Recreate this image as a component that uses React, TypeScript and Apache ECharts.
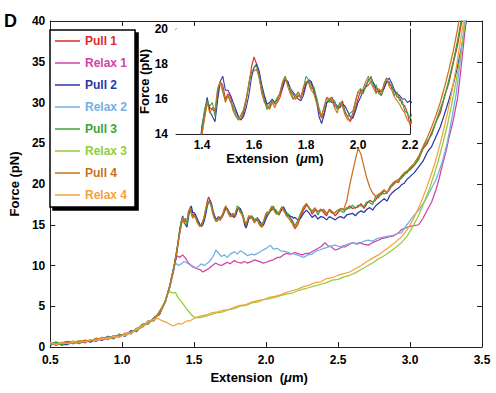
import React, { useEffect, useRef } from "react";
import * as echarts from "echarts";

const FONT = "'Liberation Sans', Arial, Helvetica, sans-serif";

const seriesNames = ["Pull 1", "Relax 1", "Pull 2", "Relax 2", "Pull 3", "Relax 3", "Pull 4", "Relax 4"];
const seriesColors = ["#e02a2a", "#d043a4", "#2a38a6", "#74aee2", "#38a43a", "#94cc3c", "#c8721e", "#f5a23e"];

// x grids (µm)
const riseX = [0.50, 0.54, 0.58, 0.62, 0.66, 0.70, 0.74, 0.78, 0.82, 0.86, 0.90, 0.94, 0.98, 1.02, 1.06, 1.10, 1.14, 1.18, 1.22, 1.26, 1.30, 1.33, 1.36, 1.38];
const fineX = [
  1.40, 1.41, 1.42, 1.43, 1.44, 1.45, 1.46, 1.47, 1.48, 1.49,
  1.50, 1.51, 1.52, 1.53, 1.54, 1.55, 1.56, 1.57, 1.58, 1.59,
  1.60, 1.61, 1.62, 1.63, 1.64, 1.65, 1.66, 1.67, 1.68, 1.69,
  1.70, 1.71, 1.72, 1.73, 1.74, 1.75, 1.76, 1.77, 1.78, 1.79,
  1.80, 1.81, 1.82, 1.83, 1.84, 1.85, 1.86, 1.87, 1.88, 1.89,
  1.90, 1.91, 1.92, 1.93, 1.94, 1.95, 1.96, 1.97, 1.98, 1.99,
  2.00, 2.01, 2.02, 2.03, 2.04, 2.05, 2.06, 2.07, 2.08, 2.09,
  2.10, 2.11, 2.12, 2.13, 2.14, 2.15, 2.16, 2.17, 2.18, 2.19,
  2.20,
];
const coarseX = [
  2.22, 2.24, 2.26, 2.28, 2.30, 2.32, 2.34, 2.36, 2.38, 2.40,
  2.42, 2.44, 2.46, 2.48, 2.50, 2.52, 2.54, 2.56, 2.58, 2.60,
  2.62, 2.64, 2.66, 2.68, 2.70, 2.72, 2.74, 2.76, 2.78, 2.80,
  2.82, 2.84, 2.86, 2.88, 2.90, 2.92, 2.94, 2.96, 2.98, 3.00,
];
const steepX = [3.03, 3.06, 3.09, 3.12, 3.15, 3.18, 3.21, 3.24, 3.27, 3.30, 3.33, 3.36, 3.39, 3.42];

// Pull forces (pN) on riseX + fineX + coarseX + steepX
const pull1F = [
  0.6, 0.2, 0.5, 0.7, 0.4, 0.8, 0.5, 0.9, 0.7, 1.2, 0.9, 1.4, 1.2, 1.7, 1.6, 2.3, 2.4, 3.2, 3.2, 4.4, 5.5, 7.5, 9.9, 12.0,
  14.0, 15.0, 15.8, 15.5, 15.4, 15.3, 16.2, 17.0, 16.8, 16.0,
  16.3, 16.1, 15.4, 15.3, 15.0, 14.8, 15.2, 15.9, 16.8, 17.8,
  18.4, 18.0, 17.3, 16.4, 16.1, 15.6, 15.5, 15.9, 15.7, 15.8,
  16.1, 16.6, 17.1, 17.0, 16.4, 16.3, 16.0, 16.2, 16.1, 16.4,
  16.9, 17.0, 16.9, 16.4, 16.1, 15.3, 14.9, 15.2, 15.8, 16.0,
  16.1, 15.6, 15.5, 15.5, 15.9, 15.3, 15.0, 14.7, 15.0, 15.5,
  16.0, 16.5, 16.4, 16.7, 16.8, 17.0, 16.9, 16.4, 16.5, 16.2,
  16.6, 17.0, 17.0, 16.6, 16.5, 16.1, 16.1, 15.7, 15.6, 15.2,
  14.5,
  15.0, 16.0, 16.8, 17.4, 17.1, 16.3, 16.8, 16.6, 16.9, 16.5,
  16.1, 16.9, 16.6, 16.1, 16.5, 17.0, 16.8, 16.9, 17.3, 17.0,
  17.1, 17.2, 17.6, 17.0, 17.6, 18.0, 17.8, 18.0, 18.6, 18.7,
  19.2, 18.9, 19.4, 20.0, 20.3, 20.2, 20.9, 21.2, 21.4, 21.9,
  22.3, 23.2, 24.3, 25.0, 26.3, 27.6, 28.7, 30.8, 32.4, 34.8, 37.0, 40.1, 43.6, 47.0,
];
const pull2F = [
  0.2, 0.5, 0.3, 0.3, 0.7, 0.4, 0.8, 0.6, 1.0, 0.8, 1.3, 1.0, 1.6, 1.3, 2.0, 1.9, 2.7, 2.8, 3.6, 4.0, 5.7, 7.3, 9.6, 11.6,
  14.5, 15.3, 16.1, 15.3, 15.0, 14.7, 15.9, 17.0, 17.3, 16.5,
  16.5, 16.2, 15.8, 15.4, 15.0, 14.8, 15.0, 15.5, 16.2, 17.2,
  17.8, 18.0, 17.6, 16.8, 16.2, 15.7, 15.8, 16.0, 15.8, 16.0,
  16.3, 16.7, 17.1, 17.0, 16.6, 16.4, 16.2, 16.0, 15.9, 16.2,
  16.8, 17.1, 17.0, 16.6, 15.9, 15.0, 14.6, 15.1, 15.8, 15.9,
  15.8, 15.8, 15.6, 15.5, 15.7, 15.6, 15.3, 15.0, 14.9, 15.3,
  15.8, 16.1, 16.5, 16.7, 17.1, 17.2, 16.9, 16.6, 16.4, 16.5,
  16.6, 17.0, 17.2, 16.9, 16.5, 16.3, 16.2, 16.0, 16.0, 15.8,
  15.9,
  15.6, 15.8, 16.4, 16.8, 16.4, 15.9, 16.2, 15.7, 16.0, 15.9,
  15.6, 16.0, 15.8, 15.6, 15.9, 16.0, 15.8, 16.2, 16.3, 16.4,
  16.1, 16.5, 16.7, 16.5, 16.9, 17.1, 16.8, 17.3, 17.6, 17.9,
  18.2, 17.9, 18.6, 19.0, 19.3, 19.5, 19.9, 20.1, 20.6, 20.9,
  21.4, 22.1, 22.8, 23.9, 24.6, 25.8, 27.0, 28.6, 30.3, 32.2, 34.4, 37.0, 40.0, 43.5,
];
const pull3F = [
  0.4, 0.6, 0.2, 0.6, 0.7, 0.5, 0.8, 0.7, 1.1, 0.9, 1.2, 1.2, 1.5, 1.4, 1.9, 2.1, 2.8, 2.9, 3.5, 4.2, 5.7, 7.5, 9.9, 11.9,
  14.3, 15.4, 15.9, 15.6, 15.8, 15.0, 16.5, 17.0, 16.4, 15.9,
  16.2, 15.8, 15.6, 15.1, 14.8, 15.1, 15.4, 16.0, 16.8, 17.5,
  17.8, 17.9, 17.2, 16.6, 15.9, 15.4, 15.7, 15.9, 15.8, 16.1,
  16.3, 16.9, 17.3, 16.8, 16.6, 16.0, 16.2, 16.4, 16.1, 16.6,
  17.3, 17.1, 16.6, 16.7, 16.1, 15.5, 15.0, 15.5, 16.1, 15.8,
  16.0, 15.9, 15.4, 15.8, 15.7, 15.2, 15.0, 15.2, 15.3, 15.8,
  16.4, 16.6, 16.3, 16.8, 17.0, 17.3, 16.7, 16.8, 16.3, 16.2,
  16.9, 17.2, 16.8, 16.8, 16.2, 16.4, 15.9, 15.9, 15.3, 15.2,
  14.9,
  15.5, 16.4, 17.2, 17.6, 16.9, 16.7, 17.1, 16.2, 16.9, 16.8,
  16.4, 16.7, 16.4, 16.5, 16.8, 16.7, 16.5, 17.1, 17.0, 17.4,
  17.0, 17.4, 17.3, 17.3, 17.8, 17.7, 17.5, 18.4, 18.3, 18.9,
  18.8, 18.9, 19.6, 19.8, 20.2, 20.6, 20.7, 21.1, 21.6, 21.7,
  22.3, 23.0, 24.4, 25.3, 26.0, 27.6, 29.2, 30.7, 32.8, 35.0, 37.6, 40.5, 44.0, 47.0,
];
const pull4F = [
  0.5, 0.3, 0.5, 0.6, 0.4, 0.7, 0.8, 0.7, 1.0, 1.1, 1.0, 1.3, 1.4, 1.6, 1.7, 2.2, 2.5, 3.0, 3.5, 4.2, 5.6, 7.4, 9.8, 11.8,
  14.0, 14.9, 15.8, 15.2, 15.5, 15.4, 16.6, 17.0, 16.5, 15.8,
  16.2, 15.9, 15.3, 15.0, 14.8, 14.9, 15.4, 16.0, 16.9, 17.6,
  17.6, 17.7, 17.2, 16.3, 15.8, 15.6, 15.4, 15.8, 15.5, 15.9,
  16.4, 17.0, 17.3, 16.7, 16.3, 16.0, 16.0, 16.4, 16.0, 16.7,
  17.0, 16.9, 16.5, 16.3, 15.8, 15.4, 15.0, 15.6, 16.1, 16.0,
  15.9, 15.5, 15.2, 15.7, 15.6, 15.1, 14.8, 14.8, 15.2, 15.9,
  16.4, 16.3, 16.6, 17.0, 17.3, 16.9, 16.6, 16.3, 16.6, 16.4,
  16.8, 17.2, 16.7, 16.5, 16.1, 15.9, 15.7, 15.4, 15.2, 14.8,
  14.6,
  15.2, 16.3, 17.1, 17.6, 17.1, 16.6, 17.0, 16.6, 16.7, 16.9,
  16.4, 16.8, 16.4, 16.5, 16.8, 17.0, 16.9, 17.9, 19.8, 21.4,
  23.0, 24.4, 23.6, 22.1, 20.7, 19.6, 18.9, 18.5, 18.7, 19.0,
  19.3, 18.9, 19.7, 20.1, 20.4, 20.5, 21.0, 21.4, 21.6, 22.0,
  22.6, 23.4, 24.6, 25.7, 27.0, 28.4, 30.0, 31.9, 34.0, 36.3, 39.0, 42.0, 45.0, 48.0,
];

// Relax curves: force on the start of riseX, then [x, F] points
const relax1Rise = [0.4, 0.6, 0.4, 0.3, 0.7, 0.6, 0.8, 0.7, 1.0, 0.9, 1.3, 1.1, 1.5, 1.5, 1.9, 2.0, 2.7, 2.9, 3.5, 4.1, 5.6, 7.4, 9.9];
const relax1Tail = [
  [1.38, 11.2], [1.40, 11.0], [1.42, 11.3], [1.44, 10.9], [1.46, 10.3], [1.48, 10.0], [1.50, 9.8], [1.52, 9.6], [1.54, 9.5], [1.56, 9.2],
  [1.58, 9.4], [1.60, 9.6], [1.62, 9.9], [1.65, 10.3], [1.67, 10.1], [1.69, 10.0], [1.71, 10.2], [1.73, 10.4], [1.75, 10.2], [1.78, 10.6],
  [1.80, 10.4], [1.83, 10.3], [1.85, 10.5], [1.87, 10.3], [1.90, 10.5], [1.92, 10.7], [1.95, 10.5], [1.98, 10.3], [2.00, 10.4], [2.03, 10.6],
  [2.05, 10.7], [2.08, 11.0], [2.10, 11.0], [2.12, 11.3], [2.14, 11.5], [2.17, 11.4], [2.20, 11.6], [2.23, 11.4], [2.25, 11.3], [2.28, 11.5],
  [2.30, 11.5], [2.33, 11.8], [2.35, 12.0], [2.38, 12.3], [2.41, 12.8], [2.43, 12.4], [2.45, 12.3], [2.48, 11.9], [2.50, 12.0], [2.53, 12.3],
  [2.55, 12.3], [2.58, 12.6], [2.60, 12.8], [2.63, 12.7], [2.65, 12.8], [2.68, 12.6], [2.71, 12.5], [2.73, 12.7], [2.75, 12.9], [2.78, 13.1],
  [2.80, 13.3], [2.83, 13.4], [2.85, 13.5], [2.88, 13.6], [2.90, 13.8], [2.92, 14.0], [2.94, 14.4], [2.97, 14.6], [3.00, 14.8], [3.03, 14.9],
  [3.06, 15.0], [3.09, 15.8], [3.12, 16.8], [3.15, 17.8], [3.18, 19.3], [3.20, 20.5], [3.23, 22.7], [3.25, 24.0], [3.27, 25.6], [3.30, 27.8],
  [3.33, 30.5], [3.35, 33.5], [3.38, 38.5], [3.41, 43.0],
];
const relax2Rise = [0.3, 0.5, 0.4, 0.6, 0.4, 0.7, 0.7, 0.8, 0.8, 1.1, 1.0, 1.4, 1.2, 1.6, 1.8, 2.2, 2.4, 3.2, 3.3, 4.2, 5.5, 7.3, 9.7];
const relax2Tail = [
  [1.37, 10.3], [1.39, 10.0], [1.41, 10.2], [1.43, 10.5], [1.45, 10.3], [1.47, 10.1], [1.49, 9.8], [1.51, 9.7], [1.53, 9.9], [1.55, 10.2],
  [1.57, 10.0], [1.60, 10.4], [1.62, 10.8], [1.64, 11.4], [1.65, 11.9], [1.67, 11.5], [1.69, 11.1], [1.71, 11.3], [1.73, 11.0], [1.75, 11.4],
  [1.78, 11.7], [1.80, 11.4], [1.82, 11.8], [1.85, 11.5], [1.87, 11.2], [1.90, 11.4], [1.92, 11.3], [1.95, 11.6], [1.97, 11.8], [2.00, 12.1],
  [2.03, 12.5], [2.05, 12.0], [2.08, 12.1], [2.10, 11.8], [2.14, 11.7], [2.17, 11.5], [2.20, 11.4], [2.23, 11.2], [2.26, 11.0], [2.29, 11.3],
  [2.32, 11.4], [2.35, 11.8], [2.37, 11.9], [2.40, 12.1], [2.42, 12.2], [2.45, 12.4], [2.48, 12.5], [2.51, 12.3], [2.55, 12.5], [2.58, 12.7],
  [2.60, 12.8], [2.63, 12.6], [2.65, 12.7], [2.68, 13.0], [2.71, 13.1], [2.74, 13.0], [2.76, 13.2], [2.79, 13.4], [2.82, 13.5], [2.85, 13.6],
  [2.88, 13.7], [2.91, 13.9], [2.94, 14.0], [2.97, 14.8], [3.00, 15.5], [3.03, 16.2], [3.06, 16.8], [3.10, 17.8], [3.13, 18.8], [3.15, 19.5],
  [3.18, 20.5], [3.20, 21.5], [3.22, 22.5], [3.24, 23.8], [3.26, 25.2], [3.29, 28.0], [3.32, 31.0], [3.34, 33.8], [3.36, 36.7], [3.38, 40.2],
  [3.40, 43.0],
];
const relax3Rise = [0.5, 0.3, 0.6, 0.4, 0.7, 0.5, 0.8, 0.8, 1.0, 0.9, 1.2, 1.1, 1.5, 1.4, 1.8, 2.0, 2.7, 2.8, 3.5, 4.2, 5.7];
const relax3Bump = [
  [1.31, 6.4], [1.33, 6.8], [1.35, 6.6], [1.37, 6.7], [1.39, 6.0], [1.41, 5.6], [1.43, 5.1], [1.45, 4.6], [1.47, 4.2], [1.49, 3.8], [1.51, 3.6],
];
const relax4Rise = [0.6, 0.3, 0.5, 0.4, 0.6, 0.8, 0.6, 0.9, 0.8, 1.1, 1.0, 1.3, 1.2, 1.6, 1.7, 2.2, 2.5, 3.1, 3.4];
const relax4Dip = [
  [1.25, 3.5], [1.28, 3.2], [1.31, 3.0], [1.33, 2.8], [1.35, 2.6], [1.37, 2.7], [1.39, 2.9], [1.41, 2.8], [1.43, 3.0], [1.45, 3.2],
  [1.47, 3.2], [1.49, 3.4], [1.51, 3.6],
];
const lowX = [
  1.54, 1.58, 1.62, 1.66, 1.70, 1.74, 1.78, 1.82, 1.86, 1.90,
  1.94, 1.98, 2.02, 2.06, 2.10, 2.14, 2.18, 2.22, 2.26, 2.30,
  2.34, 2.38, 2.42, 2.46, 2.50, 2.54, 2.58, 2.62, 2.66, 2.70,
  2.74, 2.78, 2.82, 2.86, 2.90, 2.94, 2.98,
  3.02, 3.05, 3.08, 3.11, 3.14, 3.17, 3.20, 3.23, 3.26, 3.29,
  3.32, 3.35, 3.38, 3.41,
];
const relax3Low = [
  3.6, 3.8, 4.0, 4.2, 4.3, 4.6, 4.7, 5.0, 5.1, 5.4,
  5.5, 5.8, 5.9, 6.1, 6.3, 6.5, 6.6, 6.9, 7.1, 7.3,
  7.5, 7.7, 7.9, 8.2, 8.3, 8.6, 8.8, 9.1, 9.5, 9.9,
  10.3, 10.8, 11.2, 11.7, 12.2, 12.8, 13.6,
  14.8, 15.8, 17.0, 18.3, 19.7, 21.3, 23.1, 25.1, 27.3, 29.8,
  32.6, 35.8, 39.2, 43.0,
];
const relax4Low = [
  3.8, 3.9, 4.2, 4.3, 4.5, 4.6, 4.9, 5.1, 5.2, 5.5,
  5.7, 5.8, 6.1, 6.2, 6.4, 6.7, 6.9, 7.1, 7.4, 7.6,
  7.9, 8.0, 8.4, 8.5, 8.8, 9.0, 9.2, 9.6, 10.0, 10.5,
  10.9, 11.3, 11.8, 12.3, 12.9, 13.5, 14.4,
  15.6, 16.7, 17.9, 19.3, 20.8, 22.4, 24.3, 26.4, 28.7, 31.3,
  34.2, 37.5, 41.0, 45.0,
];

const insetTicks = [1.4, 1.6, 1.8, 2.0, 2.2];

function zip(xs: number[], ys: number[]): number[][] {
  const n = Math.min(xs.length, ys.length);
  const out: number[][] = [];
  for (let i = 0; i < n; i++) out.push([xs[i], ys[i]]);
  return out;
}

export default function App() {
  const ref = useRef<HTMLDivElement>(null);
  useEffect(() => {
    if (!ref.current) return;
    const chart = echarts.init(ref.current, undefined, { renderer: "svg" });
    const pullX = [...riseX, ...fineX, ...coarseX, ...steepX];
    const pulls = [pull1F, pull2F, pull3F, pull4F].map((f) => zip(pullX, f));
    const relax1 = zip(riseX, relax1Rise).concat(relax1Tail);
    const relax2 = zip(riseX, relax2Rise).concat(relax2Tail);
    const relax3 = zip(riseX, relax3Rise).concat(relax3Bump, zip(lowX, relax3Low));
    const relax4 = zip(riseX, relax4Rise).concat(relax4Dip, zip(lowX, relax4Low));
    const mainData = [pulls[0], relax1, pulls[1], relax2, pulls[2], relax3, pulls[3], relax4];

    const axisLine = { show: true, onZero: false, lineStyle: { color: "#222", width: 1 } };
    const tick = { show: true, inside: true, length: 5, lineStyle: { color: "#222", width: 1 } };
    const lbl = { fontSize: 12, fontWeight: "bold" as const, color: "#000", fontFamily: FONT };
    const nameStyle = {
      fontSize: 13,
      fontWeight: "bold" as const,
      color: "#000",
      fontFamily: FONT,
      rich: { it: { fontSize: 13, fontWeight: "bold", fontStyle: "italic", color: "#000", fontFamily: FONT } },
    };

    const series: any[] = mainData.map((d, i) => ({
      type: "line",
      name: seriesNames[i],
      data: d,
      xAxisIndex: 0,
      yAxisIndex: 0,
      showSymbol: false,
      symbol: "none",
      color: seriesColors[i],
      lineStyle: { width: 1.25, color: seriesColors[i] },
      clip: true,
      silent: true,
      z: 3,
    }));
    [0, 2, 4, 6].forEach((i) => {
      series.push({
        type: "line",
        name: seriesNames[i],
        data: mainData[i],
        xAxisIndex: 2,
        yAxisIndex: 2,
        showSymbol: false,
        symbol: "none",
        color: seriesColors[i],
        lineStyle: { width: 1.1, color: seriesColors[i] },
        clip: true,
        silent: true,
        z: 5,
      });
    });

    chart.setOption({
      animation: false,
      backgroundColor: "#fff",
      textStyle: { fontFamily: FONT },
      graphic: [
        { type: "text", left: 4, top: 12, style: { text: "D", font: `bold 18px ${FONT}`, fill: "#000" } },
      ],
      grid: [
        { left: 42, top: 21, width: 440, height: 326, show: false },
        { left: 176, top: 29, width: 234, height: 105, show: true, backgroundColor: "#fff", borderWidth: 0, z: 4 },
      ],
      legend: {
        orient: "vertical",
        left: 50,
        top: 30,
        icon: "rect",
        itemWidth: 25,
        itemHeight: 1.5,
        itemGap: 8,
        padding: [4, 8, 5, 5],
        backgroundColor: "#fff",
        borderColor: "#000",
        borderWidth: 1.5,
        shadowColor: "#000",
        shadowBlur: 0,
        shadowOffsetX: 3,
        shadowOffsetY: 3,
        selectedMode: false,
        textStyle: { fontSize: 12, fontWeight: "bold", fontFamily: FONT, lineHeight: 14 },
        data: seriesNames.map((n, i) => ({ name: n, textStyle: { color: seriesColors[i] } })),
      },
      xAxis: [
        {
          gridIndex: 0, type: "value", min: 0.5, max: 3.5, interval: 0.5, position: "bottom",
          axisLine, axisTick: tick, splitLine: { show: false },
          axisLabel: { ...lbl, margin: 7, formatter: (v: number) => v.toFixed(1) },
          name: "Extension  ({it|μ}m)", nameLocation: "middle", nameGap: 24,
          nameTextStyle: { ...nameStyle, padding: [0, 14, 0, 0] },
        },
        {
          gridIndex: 0, type: "value", min: 0.5, max: 3.5, interval: 0.5, position: "top",
          axisLine, axisTick: tick, splitLine: { show: false }, axisLabel: { show: false },
        },
        {
          gridIndex: 1, type: "value", min: 1.3, max: 2.2, position: "bottom",
          axisLine, axisTick: { ...tick, length: 4, customValues: insetTicks }, splitLine: { show: false },
          axisLabel: { ...lbl, margin: 5, customValues: insetTicks, formatter: (v: number) => v.toFixed(1) },
          name: "Extension  ({it|μ}m)", nameLocation: "middle", nameGap: 18,
          nameTextStyle: { ...nameStyle, padding: [0, 36, 0, 0] },
        },
        {
          gridIndex: 1, type: "value", min: 1.3, max: 2.2, position: "top",
          axisLine, axisTick: { ...tick, length: 4, customValues: insetTicks }, splitLine: { show: false },
          axisLabel: { show: false },
        },
      ],
      yAxis: [
        {
          gridIndex: 0, type: "value", min: 0, max: 40, interval: 5, position: "left",
          axisLine, axisTick: tick, splitLine: { show: false },
          axisLabel: { ...lbl, margin: 5 },
          name: "Force (pN)", nameLocation: "middle", nameGap: 22, nameRotate: 90,
          nameTextStyle: nameStyle,
        },
        {
          gridIndex: 0, type: "value", min: 0, max: 40, interval: 5, position: "right",
          axisLine, axisTick: tick, splitLine: { show: false }, axisLabel: { show: false },
        },
        {
          gridIndex: 1, type: "value", min: 14, max: 20, interval: 1, position: "left",
          axisLine, axisTick: { ...tick, length: 4 }, splitLine: { show: false },
          axisLabel: { ...lbl, margin: 8, formatter: (v: number) => (Math.round(v) % 2 === 0 ? String(v) : "") },
          name: "Force (pN)", nameLocation: "middle", nameGap: 20, nameRotate: 90,
          nameTextStyle: nameStyle,
        },
        {
          gridIndex: 1, type: "value", min: 14, max: 20, interval: 1, position: "right",
          axisLine, axisTick: { ...tick, length: 4 }, splitLine: { show: false }, axisLabel: { show: false },
        },
      ],
      series,
    });
    return () => chart.dispose();
  }, []);
  return (
    <div
      ref={ref}
      style={{ position: "fixed", left: 0, top: 0, width: 496, height: 393, background: "#fff" }}
    />
  );
}
